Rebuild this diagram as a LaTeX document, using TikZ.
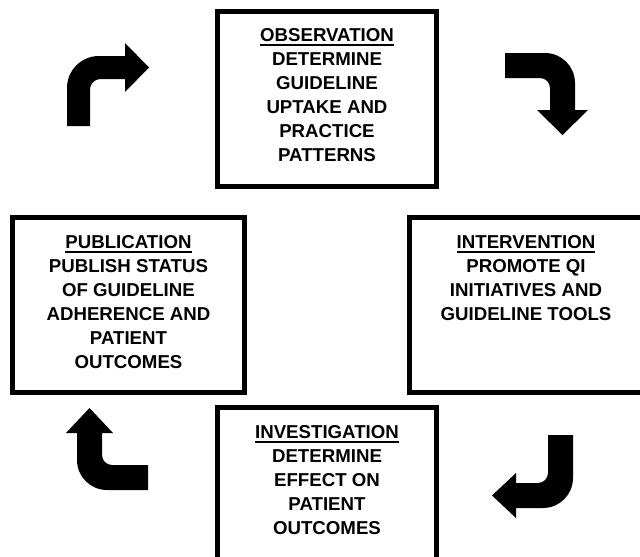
\documentclass[tikz,border=0pt]{standalone}
\usepackage{fontspec}
\setmainfont{Liberation Sans}
\newcommand{\ttlline}[1]{\setbox0\hbox{#1}\rlap{\rule[-3.4pt]{\wd0}{1.3pt}}\box0}
\begin{document}
\begin{tikzpicture}[x=0.75pt,y=-0.75pt,
  boxshape/.style={draw=black,line width=3.9pt,rectangle,inner sep=0pt},
  boxtext/.style={anchor=north,align=center,inner sep=0pt,font=\bfseries\fontsize{14}{18}\selectfont},
  bentarrow/.style={fill=black,draw=none}]
\useasboundingbox (0,0) rectangle (640,557);
% boxes
\node[boxshape,minimum width=164.25pt,minimum height=131.25pt] (obs) at (327,99) {};
\node[boxshape,minimum width=174pt,minimum height=131.25pt] (pub) at (128.5,305) {};
\node[boxshape,minimum width=177pt,minimum height=131.25pt] (int) at (527.5,305) {};
\node[boxshape,minimum width=164.25pt,minimum height=116.25pt] (inv) at (327,485) {};
% texts
\node[boxtext] (obst) at (327,28) {\ttlline{OBSERVATION}\\DETERMINE\\GUIDELINE\\UPTAKE AND\\PRACTICE\\PATTERNS};
\node[boxtext] (pubt) at (128.5,235) {\ttlline{PUBLICATION}\\PUBLISH STATUS\\OF GUIDELINE\\ADHERENCE AND\\PATIENT\\OUTCOMES};
\node[boxtext] (intt) at (526,235) {\ttlline{INTERVENTION}\\PROMOTE QI\\INITIATIVES AND\\GUIDELINE TOOLS};
\node[boxtext] (invt) at (327,425) {\ttlline{INVESTIGATION}\\DETERMINE\\EFFECT ON\\PATIENT\\OUTCOMES};
% arrow 1 (up then right)
\fill[bentarrow] (67,126) -- (67,88) .. controls (67,70.3) and (81.3,56) .. (99,56)
  -- (125,56) -- (125,43) -- (149,67.5) -- (125,92) -- (125,79) -- (100,79)
  .. controls (94.5,79) and (90,84.5) .. (90,89) -- (90,126) -- cycle;
% arrow 2 (right then down)
\fill[bentarrow] (505,53) -- (545,53) .. controls (561.6,53) and (575,66.4) .. (575,83)
  -- (575,110) -- (588,110) -- (562.5,135) -- (537,110) -- (550,110) -- (550,88)
  .. controls (550,82.5) and (545.5,78) .. (540,78) -- (505,78) -- cycle;
% arrow 3 (down then left)
\fill[bentarrow] (573,435) -- (573,478) .. controls (573,494.6) and (559.6,508) .. (543,508)
  -- (516,508) -- (516,518) -- (492,495.5) -- (516,473) -- (516,483) -- (538,483)
  .. controls (543.5,483) and (548,478.5) .. (548,473) -- (548,435) -- cycle;
% arrow 4 (left then up)
\fill[bentarrow] (148,490) -- (107,490) .. controls (90.4,490) and (77,476.6) .. (77,460)
  -- (77,433) -- (66,433) -- (89.5,408) -- (113,433) -- (102,433) -- (102,455)
  .. controls (102,460.5) and (106.5,465) .. (112,465) -- (148,465) -- cycle;
\end{tikzpicture}
\end{document}
